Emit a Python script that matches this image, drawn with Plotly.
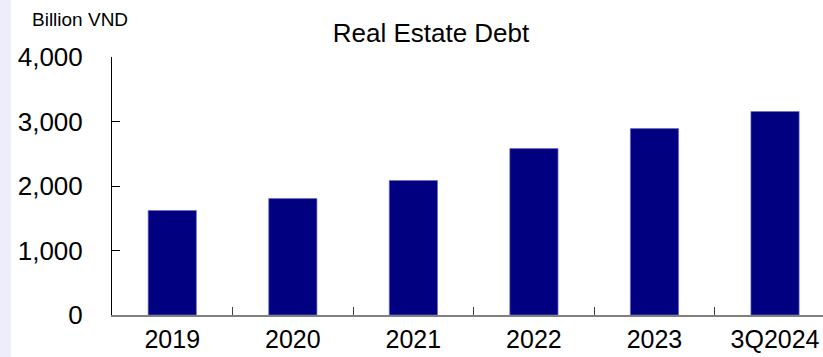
import plotly.graph_objects as go

# Real estate debt by period (billion VND)
periods = ["2019", "2020", "2021", "2022", "2023", "3Q2024"]
debt = [1620, 1805, 2085, 2580, 2890, 3155]
y_ticks = [0, 1000, 2000, 3000, 4000]
y_tick_text = ["0", "1,000", "2,000", "3,000", "4,000"]

FONT = "Arial, Liberation Sans, sans-serif"
W, H = 823, 357
L, R, T, B = 112, 0, 57, 42

fig = go.Figure(
    go.Bar(
        x=periods,
        y=debt,
        width=0.4,
        marker=dict(color="#000080", line=dict(color="rgba(110,110,200,0.7)", width=1)),
        hoverinfo="x+y",
    )
)

fig.update_layout(
    width=W,
    height=H,
    margin=dict(l=L, r=R, t=T, b=B, pad=0),
    paper_bgcolor="white",
    plot_bgcolor="white",
    showlegend=False,
    font=dict(family=FONT, color="black"),
    title=dict(
        text="Real Estate Debt",
        font=dict(family=FONT, size=26, color="black"),
        x=431 / W,
        xanchor="center",
        xref="container",
        y=1 - 33 / H,
        yanchor="middle",
        yref="container",
    ),
    bargap=0.6,
)

fig.update_xaxes(
    type="category",
    range=[-0.5, 5.398],
    automargin=False,
    showline=True,
    linecolor="#808080",
    linewidth=1.5,
    ticks="inside",
    tickson="boundaries",
    ticklen=8,
    tickcolor="#404040",
    tickwidth=1,
    tickfont=dict(family=FONT, size=25, color="black"),
    ticklabelstandoff=1,
    showgrid=False,
    zeroline=False,
)

fig.update_yaxes(
    range=[0, 4000],
    automargin=False,
    tickvals=y_ticks,
    ticktext=y_tick_text,
    showline=True,
    linecolor="black",
    linewidth=1,
    ticks="inside",
    ticklen=8,
    tickcolor="black",
    tickwidth=1,
    tickfont=dict(family=FONT, size=26, color="black"),
    ticklabelstandoff=23,
    showgrid=False,
    zeroline=False,
)

# Unit label above the value axis
fig.add_annotation(
    text="Billion VND",
    xref="paper",
    yref="paper",
    x=(80 - L) / (W - L - R),
    y=(H - B - 20) / (H - T - B),
    xanchor="center",
    yanchor="middle",
    showarrow=False,
    font=dict(family=FONT, size=19, color="black"),
)

# Pale side band along the left edge
pw = W - L - R
ph = H - T - B
fig.add_shape(
    type="rect",
    xref="paper",
    yref="paper",
    x0=-L / pw,
    x1=(11 - L) / pw,
    y0=-B / ph,
    y1=(H - B) / ph,
    fillcolor="#eeeefa",
    line=dict(width=0),
    layer="below",
)

fig.write_html("out.html")
